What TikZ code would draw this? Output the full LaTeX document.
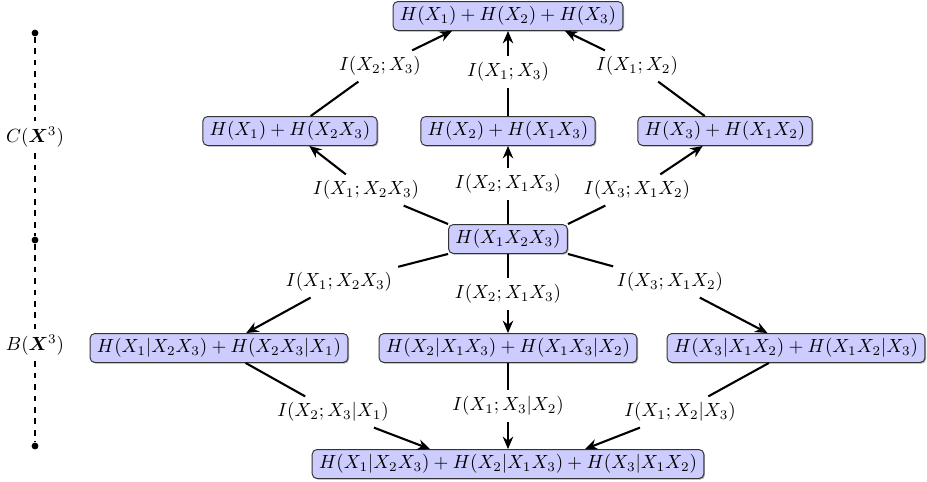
\documentclass[tikz,border=0pt]{standalone}
\usepackage{amsmath,bm}
\usetikzlibrary{arrows.meta,shadows,calc}
\begin{document}
\begin{tikzpicture}[x=0.525pt,y=-0.525pt,
  box/.style={draw=black!80, fill=blue!20, rounded corners=2.5pt,
    inner xsep=3.6pt, inner ysep=0pt, minimum height=15.2pt, line width=0.5pt,
    drop shadow={shadow xshift=0.6pt,shadow yshift=-0.6pt,opacity=0.35,fill=black}},
  lab/.style={inner sep=3pt},
  link/.style={line width=1.1pt},
  arr/.style={link, -{Stealth[length=6.5pt,width=5.5pt]}},
  axis/.style={dashed, line width=0.7pt},
  tick/.style={circle, fill=black, inner sep=0pt, minimum size=3.6pt}]
\path[use as bounding box] (0,0) rectangle (927,481);

% lattice of entropy sums
\node[box] (top) at (508,16) {$H(X_1)+H(X_2)+H(X_3)$};
\node[box] (c1) at (290,131) {$H(X_1)+H(X_2X_3)$};
\node[box] (c2) at (508,131) {$H(X_2)+H(X_1X_3)$};
\node[box] (c3) at (725,131) {$H(X_3)+H(X_1X_2)$};
\node[box] (joint) at (508,239) {$H(X_1X_2X_3)$};
\node[box] (b1) at (219,348) {$H(X_1|X_2X_3)+H(X_2X_3|X_1)$};
\node[box] (b2) at (508,348) {$H(X_2|X_1X_3)+H(X_1X_3|X_2)$};
\node[box] (b3) at (796,348) {$H(X_3|X_1X_2)+H(X_1X_2|X_3)$};
\node[box] (bot) at (508,464) {$H(X_1|X_2X_3)+H(X_2|X_1X_3)+H(X_3|X_1X_2)$};

% mutual information labels on the links
\node[lab] (t1) at (380,66) {$I(X_2;X_3)$};
\node[lab] (t2) at (508,72) {$I(X_1;X_3)$};
\node[lab] (t3) at (637,66) {$I(X_1;X_2)$};
\node[lab] (u1) at (366,190) {$I(X_1;X_2X_3)$};
\node[lab] (u2) at (508,184) {$I(X_2;X_1X_3)$};
\node[lab] (u3) at (637,190) {$I(X_3;X_1X_2)$};
\node[lab] (d1) at (339,282) {$I(X_1;X_2X_3)$};
\node[lab] (d2) at (508,294) {$I(X_2;X_1X_3)$};
\node[lab] (d3) at (670,282) {$I(X_3;X_1X_2)$};
\node[lab] (e1) at (333,412) {$I(X_2;X_3|X_1)$};
\node[lab] (e2) at (508,406) {$I(X_1;X_3|X_2)$};
\node[lab] (e3) at (680,412) {$I(X_1;X_2|X_3)$};

% upper half: towards the sum of marginals
\draw[link] (c1) -- (t1); \draw[arr] (t1) -- ($(top.south)+(-56,0)$);
\draw[link] (c2) -- (t2); \draw[arr] (t2) -- (top);
\draw[link] (c3) -- (t3); \draw[arr] (t3) -- ($(top.south)+(57,0)$);
\draw[link] (joint.north west) -- (u1); \draw[arr] (u1) -- (c1);
\draw[link] (joint) -- (u2); \draw[arr] (u2) -- (c2);
\draw[link] (joint.north east) -- (u3); \draw[arr] (u3) -- (c3);

% lower half: towards the sum of conditionals
\draw[link] (joint.south west) -- (d1); \draw[arr] (d1) -- (b1);
\draw[link] (joint) -- (d2); \draw[arr] (d2) -- (b2);
\draw[link] (joint.south east) -- (d3); \draw[arr] (d3) -- (b3);
\draw[link] (b1) -- (e1); \draw[arr] (e1) -- ($(bot.north)+(-78,0)$);
\draw[link] (b2) -- (e2); \draw[arr] (e2) -- (bot);
\draw[link] (b3) -- (e3); \draw[arr] (e3) -- ($(bot.north)+(77,0)$);

% side scale
\node[tick] (a0) at (35,33) {};
\node[tick] (a1) at (35,240) {};
\node[tick] (a2) at (35,446) {};
\node[inner sep=3pt] (cl) at (35,137) {$C(\bm{X}^3)$};
\node[inner sep=3pt] (bl) at (35,345) {$B(\bm{X}^3)$};
\draw[axis] (a0) -- (cl) -- (a1) -- (bl) -- (a2);
\end{tikzpicture}
\end{document}
